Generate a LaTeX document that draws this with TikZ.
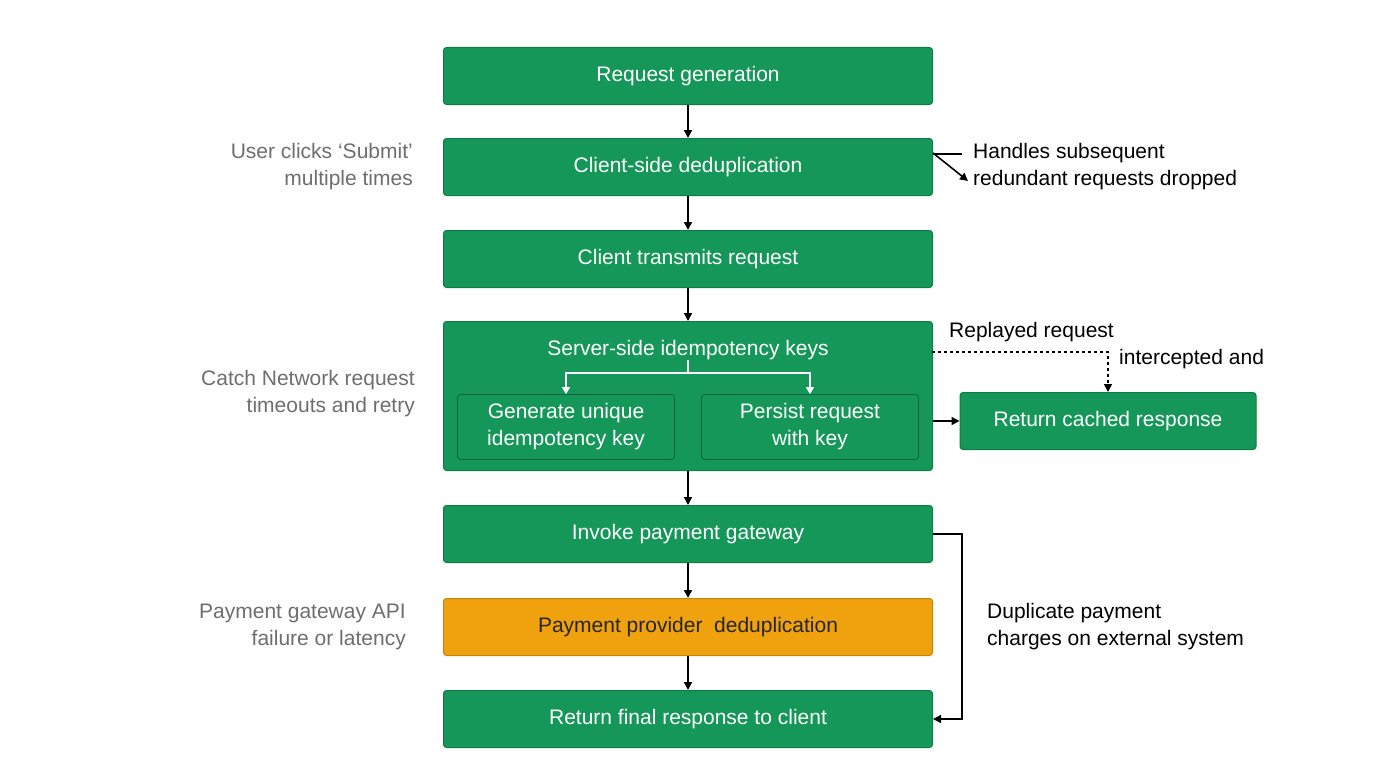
\documentclass[tikz,border=0pt]{standalone}
\usepackage{fontspec}
\setmainfont{Liberation Sans}
\usetikzlibrary{arrows.meta}
\definecolor{gr}{HTML}{16975A}
\definecolor{grd}{HTML}{0F7C47}
\definecolor{org}{HTML}{F0A20E}
\definecolor{orgd}{HTML}{C8850A}
\definecolor{lab}{HTML}{6E6E6E}
\tikzset{
 box/.style={draw=grd,fill=gr,rounded corners=3pt,line width=1pt,text=white,font=\fontsize{21}{25}\selectfont,align=center,inner sep=0pt},
 sub/.style={draw=grd!80!black,fill=gr,rounded corners=3pt,line width=0.8pt,text=white,font=\fontsize{21}{27}\selectfont,align=center,inner sep=0pt},
 lbl/.style={text=lab,font=\fontsize{21}{27}\selectfont,align=right,anchor=east,inner sep=0pt},
 note/.style={text=black,font=\fontsize{21}{27}\selectfont,align=left,anchor=west,inner sep=0pt},
 arr/.style={line width=1.6pt,-{Triangle[length=8pt,width=8pt]}},
 ln/.style={line width=1.6pt}
}
\begin{document}
\begin{tikzpicture}[x=1pt,y=-1pt]
\useasboundingbox (0,0) rectangle (1376,768);
\node[box,minimum width=489,minimum height=57] (a) at (688,76) {Request generation};
\node[box,minimum width=489,minimum height=57] (b) at (688,167) {Client-side deduplication};
\node[box,minimum width=489,minimum height=57] (c) at (688,259) {Client transmits request};
\node[box,minimum width=489,minimum height=149] (d) at (688,396) {};
\node[text=white,font=\fontsize{21}{25}\selectfont,inner sep=0pt] (dt) at (688,350) {Server-side idempotency keys};
\node[sub,minimum width=217,minimum height=65] (d1) at (566,427) {Generate unique\\idempotency key};
\node[sub,minimum width=217,minimum height=65] (d2) at (810,427) {Persist request\\with key};
\node[box,minimum width=489,minimum height=57] (e) at (688,534) {Invoke payment gateway};
\node[box,draw=orgd,fill=org,text=black!85,minimum width=489,minimum height=57] (f) at (688,627) {Payment provider\ \ deduplication};
\node[box,minimum width=489,minimum height=57] (g) at (688,719) {Return final response to client};
\node[box,minimum width=296,minimum height=57] (h) at (1108,421) {Return cached response};

\foreach \p/\q in {a/b,b/c,c/d,d/e,e/f,f/g} \draw[arr] (\p.south) -- (\q.north);

\coordinate (j) at (688,373);
\draw[ln,white,line width=1.3pt] (dt.south) -- (j);
\draw[white,line width=1.3pt,-{Triangle[length=7pt,width=8pt]}] (j) -| (d1.north);
\draw[white,line width=1.3pt,-{Triangle[length=7pt,width=8pt]}] (j) -| (d2.north);

\coordinate (b1) at (962,154);
\draw[ln] (b.east |- b1) -- (b1);
\draw[arr] ([yshift=14]b.east) -- (968,181);
\node[note] (n1) at (973,167) {Handles subsequent\\redundant requests dropped};

\draw[ln,dashed,-{Triangle[length=8pt,width=8pt]}] (932,352) -| (h.north);
\node[note] (n2) at (949,332) {Replayed request};
\node[note] (n3) at (1119,359) {intercepted and};
\draw[arr] (d.east |- h) -- (h.west);

\coordinate (k) at (962,534);
\draw[arr] (e.east) -- (k) |- (g.east);
\node[note] (n4) at (987,627) {Duplicate payment\\charges on external system};

\node[lbl] (l1) at (413,167) {User clicks ‘Submit’\\multiple times};
\node[lbl] (l2) at (415,394) {Catch Network request\\timeouts and retry};
\node[lbl] (l3) at (406,627) {Payment gateway API\\failure or latency};
\end{tikzpicture}
\end{document}
